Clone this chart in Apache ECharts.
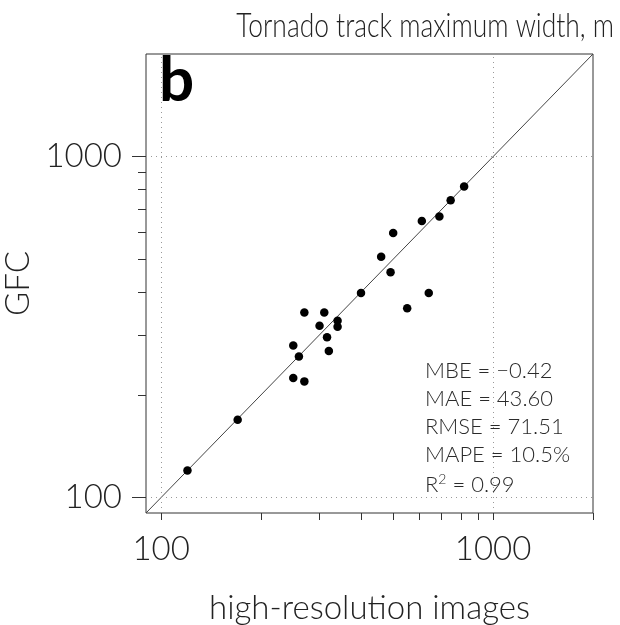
<!DOCTYPE html>
<html>
<head>
<meta charset="utf-8">
<script src="https://cdn.jsdelivr.net/npm/echarts@6/dist/echarts.min.js"></script>
<style>
html,body{margin:0;padding:0;background:#fff;}
#chart{width:620px;height:625px;}
</style>
</head>
<body>
<div id="chart"></div>
<script>
// Data (x: high-resolution images, y: GFC), metres
const hiResWidth = [120, 170, 250, 270, 260, 250, 320, 316, 300, 340, 340, 270, 310, 400, 551, 640, 491, 460, 500, 610, 689, 745, 818];
const gfcWidth   = [120, 169, 224, 219, 259, 279, 269, 295, 319, 317, 330, 349, 349, 398, 359, 398, 458, 508, 597, 647, 667, 745, 817];
const oneToOne = [90, 2000];
const axisRange = [90, 2000];
const majorTicks = [100, 1000];
const xTickValues = [100, 200, 300, 400, 500, 600, 700, 800, 900, 1000, 2000];
const yMinorTicks = [200, 300, 400, 500, 600, 700, 800, 900];
const titleText = 'Tornado track maximum width, m';
const panelLabel = 'b';
const xName = 'high-resolution images';
const yName = 'GFC';
const statsLines = ['MBE = \u22120.42', 'MAE = 43.60', 'RMSE = 71.51', 'MAPE = 10.5%'];
const r2Text = '= 0.99';

const FONT = 'Lato';
const points = hiResWidth.map((x, i) => [x, gfcWidth[i]]);

const chart = echarts.init(document.getElementById('chart'), null, {renderer: 'canvas'});
const textColor = '#222';

const statsGraphics = statsLines.map((t, i) => ({
  type: 'text', left: 425, top: 360 + i * 28,
  style: {text: t, font: '300 22px ' + FONT, fill: '#2a2a2a'}
}));
statsGraphics.push({
  type: 'text', left: 425, top: 360 + 4 * 28,
  style: {
    text: '{m|R}{s|2}{m| ' + r2Text + '}',
    rich: {
      m: {font: '300 22px ' + FONT, fill: '#2a2a2a', verticalAlign: 'bottom'},
      s: {font: '300 14px ' + FONT, fill: '#2a2a2a', verticalAlign: 'top', padding: [0, 0, 10, 0]}
    }
  }
});

const option = {
  backgroundColor: '#fff',
  animation: false,
  grid: {left: 146, right: 27, top: 54, bottom: 112, containLabel: false, outerBoundsMode: 'none',
    show: true, borderColor: '#333', borderWidth: 1, backgroundColor: 'transparent'},
  xAxis: {
    type: 'log', logBase: 10, min: axisRange[0], max: axisRange[1],
    name: xName, nameLocation: 'middle', nameGap: 95,
    nameTextStyle: {fontFamily: FONT, fontWeight: 300, fontSize: 33, color: textColor, verticalAlign: 'middle'},
    axisLine: {show: false},
    axisTick: {show: true, inside: false, length: 7, lineStyle: {color: '#333', width: 1}, customValues: xTickValues},
    axisLabel: {show: true, customValues: majorTicks, margin: 20, fontFamily: FONT, fontWeight: 300, fontSize: 33, color: textColor,
      formatter: v => String(Math.round(v))},
    minorTick: {show: false},
    splitLine: {show: false}
  },
  yAxis: [{
    type: 'log', logBase: 10, min: axisRange[0], max: axisRange[1],
    name: yName, nameLocation: 'middle', nameGap: 105, nameRotate: 90,
    nameTextStyle: {fontFamily: FONT, fontWeight: 300, fontSize: 33, color: textColor, verticalAlign: 'middle'},
    axisLine: {show: false},
    axisTick: {show: true, inside: false, length: 14, lineStyle: {color: '#333', width: 1}, customValues: majorTicks},
    axisLabel: {show: true, customValues: majorTicks, margin: 24, fontFamily: FONT, fontWeight: 300, fontSize: 33, color: textColor,
      formatter: v => String(Math.round(v))},
    splitLine: {show: false}
  }, {
    type: 'log', logBase: 10, min: axisRange[0], max: axisRange[1],
    position: 'left', offset: 0,
    axisLine: {show: false},
    axisTick: {show: true, inside: false, length: 8, lineStyle: {color: '#333', width: 1}, customValues: yMinorTicks},
    axisLabel: {show: false},
    splitLine: {show: false}
  }],
  graphic: [
    {type: 'text', x: 614, y: 10, scaleX: 0.8,
      style: {text: titleText, font: '300 33px ' + FONT, fill: textColor, align: 'right', verticalAlign: 'top'}},
    {type: 'text', left: 159, top: 50, style: {text: panelLabel, font: 'bold 62px ' + FONT, fill: '#000'}}
  ].concat(statsGraphics),
  series: [
    {
      type: 'line', data: oneToOne.map(v => [v, v]), symbol: 'none', silent: true,
      lineStyle: {color: '#444', width: 1}, z: 2,
      markLine: {
        silent: true, symbol: 'none', label: {show: false},
        lineStyle: {color: '#999', type: [1, 4], width: 1},
        data: majorTicks.map(v => ({xAxis: v})).concat(majorTicks.map(v => ({yAxis: v})))
      }
    },
    {
      type: 'scatter', data: points, symbol: 'circle', symbolSize: 8.5,
      itemStyle: {color: '#000', opacity: 1}, z: 3
    }
  ]
};
chart.setOption(option);
</script>
</body>
</html>
